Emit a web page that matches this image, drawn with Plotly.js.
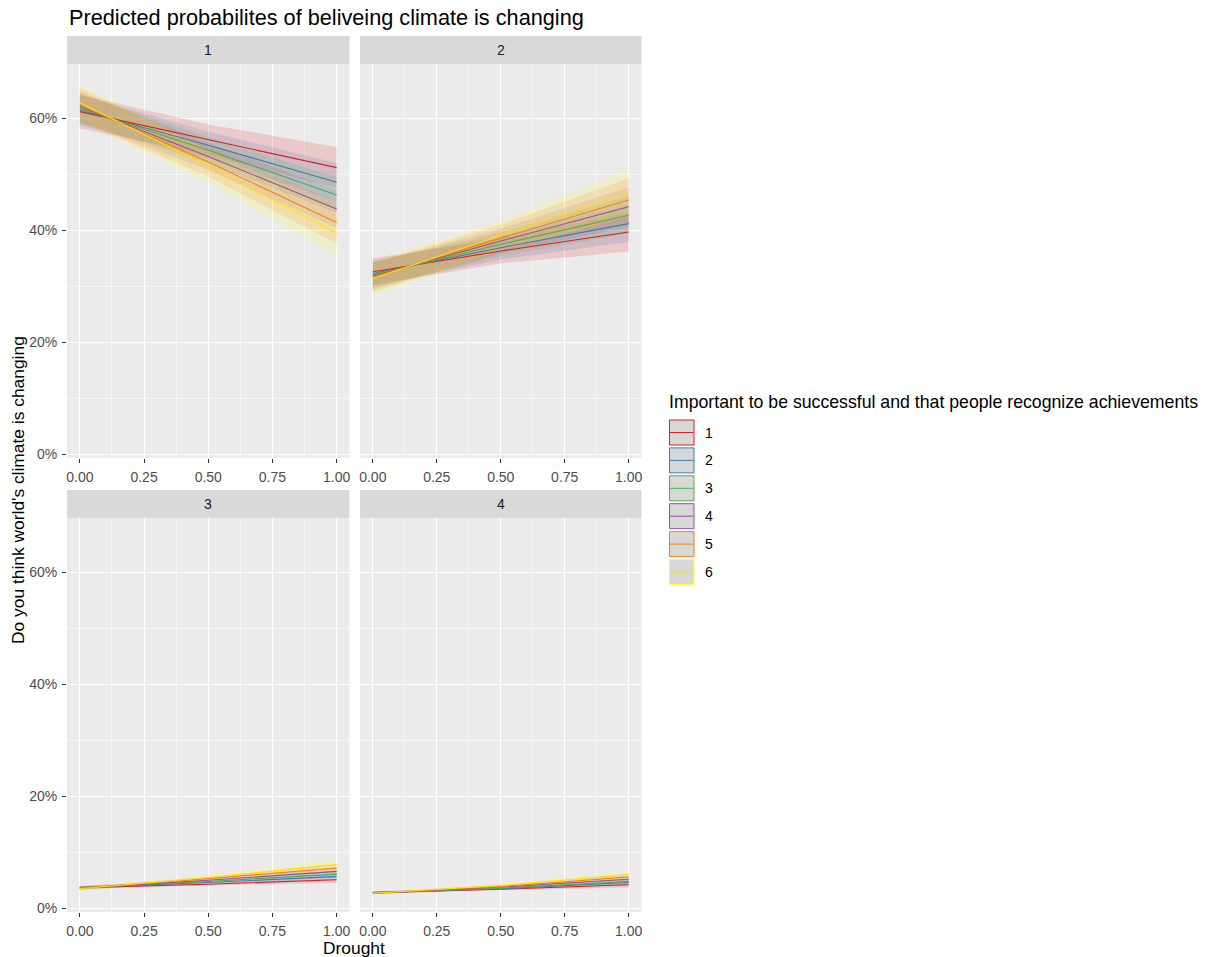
<!DOCTYPE html>
<html>
<head>
<meta charset="utf-8">
<script src="https://cdn.plot.ly/plotly-3.0.1.min.js"></script>
<style>html,body{margin:0;padding:0;background:#fff;}#chart{width:1206px;height:957px;}</style>
</head>
<body>
<div id="chart"></div>
<script>
// ---- data (percent values) ----
const drought = [0, 0.5, 1];
const levels = ['1', '2', '3', '4', '5', '6'];
const panels = ['1', '2', '3', '4'];
const colors = ['#E41A1C', '#377EB8', '#4DAF4A', '#984EA3', '#FF7F00', '#FFFF33'];
const lineColors = ['#E41A1C', '#377EB8', '#4DAF4A', '#984EA3', '#FF7F00', '#FFE000'];

// panel 1
const p1_fit = [
  [61.2, 56.2, 51.2],
  [61.5, 55.2, 48.6],
  [61.8, 54.3, 46.3],
  [62.1, 53.2, 43.8],
  [62.4, 52.2, 41.4],
  [62.8, 51.5, 39.5]
];
const p1_half = [
  [3.0, 2.7, 3.7],
  [2.7, 2.4, 3.4],
  [2.6, 2.3, 3.2],
  [2.7, 2.4, 3.4],
  [3.0, 2.6, 3.8],
  [3.3, 2.9, 4.2]
];
// panel 2
const p2_fit = [
  [32.6, 36.3, 39.7],
  [32.3, 36.9, 41.2],
  [32.0, 37.5, 42.7],
  [31.8, 38.1, 44.2],
  [31.6, 38.6, 45.4],
  [31.4, 39.1, 46.6]
];
const p2_half = [
  [2.4, 2.2, 3.5],
  [2.3, 2.1, 3.3],
  [2.3, 2.1, 3.3],
  [2.4, 2.2, 3.5],
  [2.7, 2.4, 3.9],
  [3.1, 2.7, 4.2]
];
// panel 3
const p3_fit = [
  [3.7, 4.3, 5.1],
  [3.7, 4.6, 5.7],
  [3.7, 4.8, 6.1],
  [3.6, 5.0, 6.6],
  [3.6, 5.3, 7.2],
  [3.5, 5.5, 7.8]
];
const p3_half = [
  [0.3, 0.2, 0.6],
  [0.3, 0.2, 0.6],
  [0.3, 0.2, 0.6],
  [0.3, 0.2, 0.7],
  [0.3, 0.3, 0.8],
  [0.4, 0.3, 1.0]
];
// panel 4
const p4_fit = [
  [2.8, 3.4, 4.2],
  [2.8, 3.5, 4.6],
  [2.8, 3.6, 4.8],
  [2.7, 3.8, 5.2],
  [2.7, 3.9, 5.6],
  [2.7, 4.1, 6.0]
];
const p4_half = [
  [0.2, 0.15, 0.5],
  [0.2, 0.15, 0.5],
  [0.2, 0.15, 0.5],
  [0.2, 0.15, 0.6],
  [0.2, 0.2, 0.6],
  [0.2, 0.2, 0.7]
];
const xTicks = [0, 0.25, 0.5, 0.75, 1];
const xTickText = ['0.00', '0.25', '0.50', '0.75', '1.00'];
const yTicks = [0, 0.2, 0.4, 0.6];
const yTickText = ['0%', '20%', '40%', '60%'];

const titleText = 'Predicted probabilites of beliveing climate is changing';
const xTitle = 'Drought';
const yTitle = "Do you think world's climate is changing";
const legendTitle = 'Important to be successful and that people recognize achievements';

// ---- build ----
const W = 1206, H = 957;
const FONT = 'Liberation Sans, Arial, sans-serif';
const fits = [p1_fit, p2_fit, p3_fit, p4_fit];
const halves = [p1_half, p2_half, p3_half, p4_half];

function rgba(hex, a) {
  const r = parseInt(hex.slice(1, 3), 16), g = parseInt(hex.slice(3, 5), 16), b = parseInt(hex.slice(5, 7), 16);
  return `rgba(${r},${g},${b},${a})`;
}

const traces = [];
for (let p = 0; p < 4; p++) {
  const ax = p === 0 ? '' : String(p + 1);
  for (let s = 0; s < levels.length; s++) {
    const f = fits[p][s], h = halves[p][s];
    const up = f.map((v, i) => (v + h[i]) / 100);
    const lo = f.map((v, i) => (v - h[i]) / 100);
    traces.push({
      type: 'scatter', mode: 'lines',
      x: drought.concat(drought.slice().reverse()),
      y: up.concat(lo.slice().reverse()),
      fill: 'toself', fillcolor: rgba(colors[s], 0.16),
      line: {width: 0, color: 'rgba(0,0,0,0)'},
      xaxis: 'x' + ax, yaxis: 'y' + ax,
      showlegend: false, hoverinfo: 'skip'
    });
  }
  for (let s = 0; s < levels.length; s++) {
    traces.push({
      type: 'scatter', mode: 'lines',
      x: drought, y: fits[p][s].map(v => v / 100),
      line: {width: 1.1, color: lineColors[s]},
      xaxis: 'x' + ax, yaxis: 'y' + ax,
      showlegend: false, name: levels[s]
    });
  }
}

const px = v => v / W;
const py = v => 1 - v / H;
const colX = [[67, 349.5], [360, 641.5]];
const rowY = [[64, 458], [518, 912]];

const layout = {
  width: W, height: H,
  margin: {l: 0, r: 0, t: 0, b: 0},
  paper_bgcolor: '#ffffff', plot_bgcolor: '#EBEBEB',
  showlegend: false,
  font: {family: FONT, color: '#4D4D4D'},
  shapes: [], annotations: []
};

for (let p = 0; p < 4; p++) {
  const c = p % 2, r = Math.floor(p / 2);
  const ax = p === 0 ? '' : String(p + 1);
  layout['xaxis' + ax] = {
    domain: [px(colX[c][0]), px(colX[c][1])],
    range: [-0.05, 1.05],
    anchor: 'y' + ax,
    tickvals: xTicks, ticktext: xTickText,
    ticks: 'outside', ticklen: 4, tickwidth: 1, tickcolor: '#333333',
    tickfont: {size: 14, color: '#4D4D4D', family: FONT},
    ticklabelstandoff: 2,
    showgrid: true, gridcolor: '#FFFFFF', gridwidth: 1.1,
    minor: {tickvals: [0.125, 0.375, 0.625, 0.875], showgrid: true, gridcolor: '#FFFFFF', gridwidth: 0.55, ticks: ''},
    zeroline: false, showline: false, fixedrange: true
  };
  layout['yaxis' + ax] = {
    domain: [py(rowY[r][1]), py(rowY[r][0])],
    range: [-0.0066, 0.697],
    anchor: 'x' + ax,
    tickvals: yTicks, ticktext: yTickText,
    ticks: c === 0 ? 'outside' : '', ticklen: 4, tickwidth: 1, tickcolor: '#333333',
    showticklabels: c === 0,
    tickfont: {size: 14, color: '#4D4D4D', family: FONT},
    ticklabelstandoff: 2,
    showgrid: true, gridcolor: '#FFFFFF', gridwidth: 1.1,
    minor: {tickvals: [0.1, 0.3, 0.5], showgrid: true, gridcolor: '#FFFFFF', gridwidth: 0.55, ticks: ''},
    zeroline: false, showline: false, fixedrange: true
  };
  const sy0 = r === 0 ? 36 : 490, sy1 = r === 0 ? 64 : 518;
  layout.shapes.push({
    type: 'rect', xref: 'paper', yref: 'paper',
    x0: px(colX[c][0]), x1: px(colX[c][1]), y0: py(sy1), y1: py(sy0),
    fillcolor: '#D9D9D9', line: {width: 0}, layer: 'below'
  });
  layout.annotations.push({
    xref: 'paper', yref: 'paper',
    x: px((colX[c][0] + colX[c][1]) / 2), y: py((sy0 + sy1) / 2),
    xanchor: 'center', yanchor: 'middle', showarrow: false,
    text: panels[p], font: {size: 14, color: '#1A1A1A', family: FONT}
  });
}

layout.annotations.push({
  xref: 'paper', yref: 'paper', x: px(67), y: py(18),
  xanchor: 'left', yanchor: 'middle', showarrow: false,
  text: titleText, font: {size: 21.7, color: '#000000', family: FONT}
});
layout.annotations.push({
  xref: 'paper', yref: 'paper', x: px(354), y: py(948),
  xanchor: 'center', yanchor: 'middle', showarrow: false,
  text: xTitle, font: {size: 17.4, color: '#000000', family: FONT}
});
layout.annotations.push({
  xref: 'paper', yref: 'paper', x: px(18), y: py(490),
  xanchor: 'center', yanchor: 'middle', showarrow: false, textangle: -90,
  text: yTitle, font: {size: 17.4, color: '#000000', family: FONT}
});

layout.annotations.push({
  xref: 'paper', yref: 'paper', x: px(667), y: py(402),
  xanchor: 'left', yanchor: 'middle', showarrow: false,
  text: legendTitle, font: {size: 17.7, color: '#000000', family: FONT}
});
for (let s = 0; s < levels.length; s++) {
  const top = 420 + s * 27.9, bot = top + 25;
  layout.shapes.push({
    type: 'rect', xref: 'paper', yref: 'paper',
    x0: px(669.5), x1: px(694), y0: py(bot), y1: py(top),
    fillcolor: '#D7D7D7', line: {width: 1, color: s === 5 ? '#FFFF33' : colors[s]}
  });
  layout.shapes.push({
    type: 'line', xref: 'paper', yref: 'paper',
    x0: px(670), x1: px(693.5), y0: py((top + bot) / 2), y1: py((top + bot) / 2),
    line: {width: 1, color: lineColors[s]}
  });
  layout.annotations.push({
    xref: 'paper', yref: 'paper', x: px(703), y: py((top + bot) / 2),
    xanchor: 'left', yanchor: 'middle', showarrow: false,
    text: levels[s], font: {size: 14, color: '#000000', family: FONT}
  });
}

Plotly.newPlot('chart', traces, layout, {displayModeBar: false, staticPlot: true});
</script>
</body>
</html>
